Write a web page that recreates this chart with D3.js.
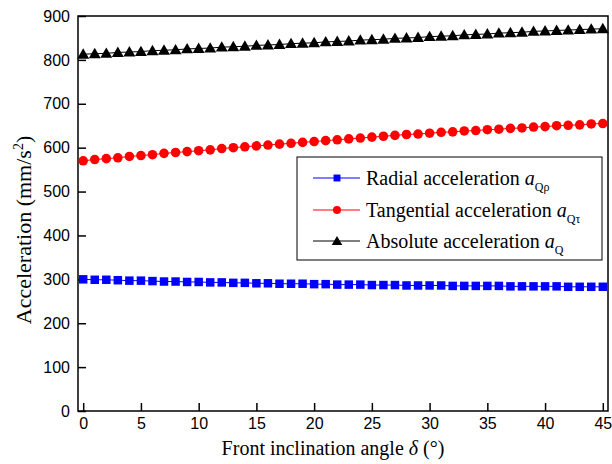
<!DOCTYPE html>
<html><head><meta charset="utf-8">
<script src="https://cdn.jsdelivr.net/npm/d3@7"></script>
<style>body{margin:0;background:#fff}svg{display:block}</style>
</head><body>
<svg id="c" width="612" height="464"></svg>
<script>
const angles = d3.range(0, 46);
const radial = [300,299,299,298,297,297,296,295,295,294,294,293,293,292,292,291,291,290,290,290,289,289,288,288,288,287,287,287,286,286,286,286,285,285,285,285,285,284,284,284,284,284,283,283,283,283];
const tangential = [570,573,575,577,580,582,584,587,589,591,593,595,598,600,602,604,606,608,610,612,614,616,618,620,622,624,626,628,630,631,633,635,636,638,639,641,642,644,645,647,648,650,651,652,654,655];
const absolute = [813,814,815,817,818,819,821,822,823,825,826,827,829,830,831,833,834,835,837,838,839,841,842,843,845,846,847,849,850,851,853,854,855,857,858,859,861,862,863,865,866,867,868,869,870,871];
const xTicks = [0,5,10,15,20,25,30,35,40,45];
const yTicks = [0,100,200,300,400,500,600,700,800,900];
const seriesNames = ["Radial acceleration ", "Tangential acceleration ", "Absolute acceleration "];
const seriesSubs = ["Qρ", "Qτ", "Q"];
const seriesColors = ["#0000ff", "#ff0000", "#000000"];

const svg = d3.select("#c");
const L = 78, R = 608, T = 16, B = 411;
const x = d3.scaleLinear().domain([-0.45, 45.45]).range([L, R]);
const y = d3.scaleLinear().domain([0, 900]).range([B, T]);

const sans = "Arial, 'Liberation Sans', sans-serif";
const serif = "'Times New Roman', 'Liberation Serif', serif";

// axes
const yAxis = d3.axisLeft(y).tickValues(yTicks).tickSize(-8).tickPadding(8);
const gy = svg.append("g").attr("transform", `translate(${L},0)`).call(yAxis);
gy.select(".domain").remove();
gy.selectAll("line").attr("stroke", "#000").attr("stroke-width", 1.5);
gy.selectAll("text").attr("font-family", sans).attr("font-size", 16).attr("fill", "#000");

const xAxis = d3.axisBottom(x).tickValues(xTicks).tickSize(-8).tickPadding(7);
const gx = svg.append("g").attr("transform", `translate(0,${B})`).call(xAxis);
gx.select(".domain").remove();
gx.selectAll("line").attr("stroke", "#000").attr("stroke-width", 1.5);
gx.selectAll("text").attr("font-family", sans).attr("font-size", 16).attr("fill", "#000");

// frame
svg.append("rect").attr("x", L).attr("y", T).attr("width", R - L).attr("height", B - T)
  .attr("fill", "none").attr("stroke", "#000").attr("stroke-width", 1.5);

// axis titles
const xt = svg.append("text").attr("x", 333).attr("y", 455).attr("text-anchor", "middle")
  .attr("font-family", serif).attr("font-size", 20).attr("fill", "#000");
xt.append("tspan").text("Front inclination angle ");
xt.append("tspan").attr("font-style", "italic").text("δ");
xt.append("tspan").text(" (°)");

const yt = svg.append("text").attr("transform", "translate(31,230) rotate(-90)").attr("text-anchor", "middle")
  .attr("font-family", serif).attr("font-size", 22).attr("fill", "#000");
yt.append("tspan").text("Acceleration (mm/s");
yt.append("tspan").attr("font-size", 14).attr("dy", -8).text("2");
yt.append("tspan").attr("dy", 8).text(")");

// series
const data = [radial, tangential, absolute];
const symTypes = [d3.symbolSquare, d3.symbolCircle, d3.symbolTriangle];
const symSizes = [72, 72, 62];
const line = d3.line().x((d, i) => x(angles[i])).y(d => y(d));
data.forEach((vals, k) => {
  const g = svg.append("g");
  g.append("path").attr("d", line(vals)).attr("fill", "none").attr("stroke", seriesColors[k]).attr("stroke-width", 1);
  g.selectAll("path.m").data(vals).enter().append("path").attr("class", "m")
    .attr("d", d3.symbol().type(symTypes[k]).size(symSizes[k]))
    .attr("transform", (d, i) => `translate(${x(angles[i])},${y(d) + (k === 2 ? 1 : 0)})`)
    .attr("fill", seriesColors[k]);
});

// legend
const lg = svg.append("g");
lg.append("rect").attr("x", 297).attr("y", 157).attr("width", 305).attr("height", 103)
  .attr("fill", "#fff").attr("stroke", "#000").attr("stroke-width", 1);
const rowY = [178, 210, 241];
const legSizes = [48, 50, 48];
seriesNames.forEach((nm, k) => {
  lg.append("line").attr("x1", 313).attr("x2", 360).attr("y1", rowY[k]).attr("y2", rowY[k])
    .attr("stroke", seriesColors[k]).attr("stroke-width", 1);
  lg.append("path").attr("d", d3.symbol().type(symTypes[k]).size(legSizes[k])())
    .attr("transform", `translate(337,${rowY[k] + (k === 2 ? 1 : 0)})`).attr("fill", seriesColors[k]);
  const t = lg.append("text").attr("x", 366).attr("y", rowY[k] + 7)
    .attr("font-family", serif).attr("font-size", 20).attr("fill", "#000");
  t.append("tspan").text(nm);
  t.append("tspan").attr("font-style", "italic").text("a");
  t.append("tspan").attr("font-size", 12).attr("dy", 6).text(seriesSubs[k]);
});
</script>
</body></html>
